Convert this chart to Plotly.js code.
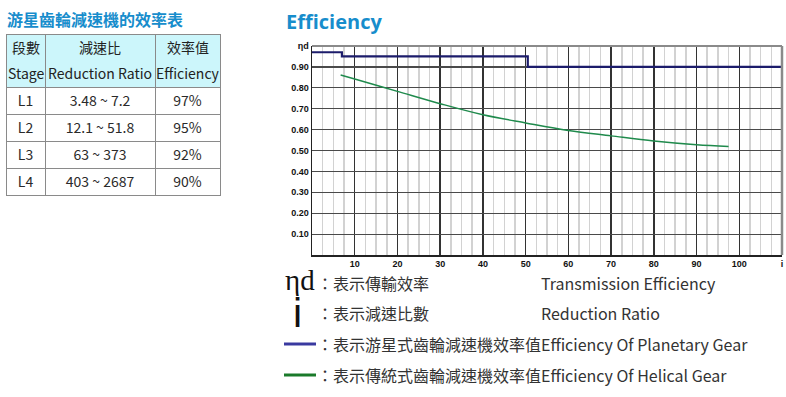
<!DOCTYPE html>
<html>
<head>
<meta charset="utf-8">
<script src="https://cdn.plot.ly/plotly-3.0.1.min.js"></script>
<style>
html,body{margin:0;padding:0;background:#fff;}
#chart{width:786px;height:397px;}
</style>
</head>
<body>
<div id="chart"></div>
<script>
// ---- Table data ----
const headerZh = ['段數', '減速比', '效率值'];
const headerEn = ['Stage', 'Reduction Ratio', 'Efficiency'];
const stages = ['L1', 'L2', 'L3', 'L4'];
const ratios = ['3.48 ~ 7.2', '12.1 ~ 51.8', '63 ~ 373', '403 ~ 2687'];
const effs = ['97%', '95%', '92%', '90%'];

// ---- Chart data ----
const planetaryX = [0, 7, 50.5, 110];
const planetaryY = [0.97, 0.95, 0.90, 0.90];
const helicalX = [6.7, 10, 20, 30, 40, 50, 60, 70, 80, 90, 97.5];
const helicalY = [0.861, 0.842, 0.783, 0.724, 0.671, 0.632, 0.596, 0.570, 0.545, 0.527, 0.519];
const xTickVals = [10, 20, 30, 40, 50, 60, 70, 80, 90, 100, 110];
const xTickText = ['10', '20', '30', '40', '50', '60', '70', '80', '90', '100', 'i'];
const yTickVals = [0.1, 0.2, 0.3, 0.4, 0.5, 0.6, 0.7, 0.8, 0.9, 1.0];
const yTickText = ['0.10', '0.20', '0.30', '0.40', '0.50', '0.60', '0.70', '0.80', '0.90', 'ηd'];

const W = 786, H = 397;
const px = v => v / W;
const py = v => 1 - v / H;

const CJK = '"Noto Sans CJK TC", "Noto Sans", sans-serif';
const TABLE_LEFT = 6, TABLE_RIGHT = 221;
const colWidths = [39, 110, 65];

const traces = [
  {
    type: 'table',
    domain: {x: [px(TABLE_LEFT), px(TABLE_RIGHT)], y: [py(230), py(34)]},
    columnwidth: colWidths,
    header: {
      values: headerZh.map(() => ''),
      align: 'center',
      height: 53,
      fill: {color: '#ccf6fb'},
      line: {color: '#8a8a8a', width: 1},
      font: {family: CJK, size: 14, color: '#222'}
    },
    cells: {
      values: [stages, ratios, effs],
      align: 'center',
      height: 27,
      fill: {color: '#ffffff'},
      line: {color: '#8a8a8a', width: 1},
      font: {family: CJK, size: 14, color: '#2a2a2a'}
    }
  },
  {
    type: 'scatter', mode: 'lines',
    x: planetaryX, y: planetaryY,
    line: {shape: 'hv', color: '#1c1c6b', width: 2.2},
    hoverinfo: 'skip', showlegend: false
  },
  {
    type: 'scatter', mode: 'lines',
    x: helicalX, y: helicalY,
    line: {shape: 'spline', color: '#1f8a4c', width: 1.5},
    hoverinfo: 'skip', showlegend: false
  }
];

const legendFont = {family: CJK, size: 16, color: '#333'};
function ann(text, x, y, font, extra) {
  return Object.assign({text: text, x: px(x), y: py(y), xref: 'paper', yref: 'paper',
    xanchor: 'left', yanchor: 'middle', showarrow: false, font: font}, extra || {});
}

// header labels centred over each header column
const headerAnns = [];
let acc = TABLE_LEFT;
const totalW = colWidths.reduce((a, b) => a + b, 0);
colWidths.forEach((w, i) => {
  const realW = w / totalW * (TABLE_RIGHT - TABLE_LEFT);
  const cx = acc + realW / 2;
  acc += realW;
  const f = {family: CJK, size: 14, color: '#222'};
  headerAnns.push(ann(headerZh[i], cx, 47, f, {xanchor: 'center'}));
  headerAnns.push(ann(headerEn[i], cx, 73, f, {xanchor: 'center'}));
});

const layout = {
  width: W, height: H,
  margin: {l: 0, r: 0, t: 0, b: 0},
  paper_bgcolor: '#fff', plot_bgcolor: '#fff',
  showlegend: false,
  title: {
    text: '<b>Efficiency</b>',
    x: px(286), xanchor: 'left', xref: 'paper',
    y: py(22), yanchor: 'middle', yref: 'paper',
    font: {family: '"Open Sans", sans-serif', size: 20, color: '#178dcc'}
  },
  xaxis: {
    domain: [px(312), px(782)],
    range: [0, 110],
    tickvals: xTickVals, ticktext: xTickText,
    ticks: '', showgrid: true, gridcolor: '#333', gridwidth: 1.5,
    minor: {dtick: 2.5, tick0: 0, showgrid: true, gridcolor: '#d2d2d2', gridwidth: 1.5, ticks: ''},
    zeroline: false,
    showline: true, linecolor: '#222', linewidth: 1.5,
    tickfont: {family: '"Liberation Sans", Arial, sans-serif', size: 9, color: '#111', weight: 'bold'},
    fixedrange: true
  },
  yaxis: {
    domain: [py(255), py(46)],
    range: [0, 1.0],
    tickvals: yTickVals, ticktext: yTickText,
    ticks: '', showgrid: true, gridcolor: '#4a4a4a', gridwidth: 1.2,
    zeroline: false,
    showline: true, linecolor: '#222', linewidth: 1.5,
    tickfont: {family: '"Liberation Sans", Arial, sans-serif', size: 9, color: '#111', weight: 'bold'},
    fixedrange: true
  },
  shapes: [
    {type: 'line', xref: 'x domain', yref: 'y domain', x0: 0, x1: 1, y0: 1, y1: 1, line: {color: '#8a8a8a', width: 2}},
    {type: 'line', xref: 'x domain', yref: 'y domain', x0: 1, x1: 1, y0: 0, y1: 1, line: {color: '#8a8a8a', width: 2.5}},
    {type: 'line', xref: 'paper', yref: 'paper', x0: px(284), x1: px(316), y0: py(344), y1: py(344), line: {color: '#3a3aa0', width: 3}},
    {type: 'line', xref: 'paper', yref: 'paper', x0: px(284), x1: px(316), y0: py(375), y1: py(375), line: {color: '#1a7a2a', width: 3}}
  ],
  annotations: headerAnns.concat([
    ann('<b>游星齒輪減速機的效率表</b>', 5, 19, {family: CJK, size: 16, color: '#178dcc'}),
    ann('ηd', 283, 280, {family: '"Liberation Serif", "DejaVu Serif", serif', size: 29, color: '#111'}),
    ann('i', 291, 313, {family: '"Liberation Sans", Arial, sans-serif', size: 41, color: '#111'}),
    ann('：表示傳輸效率', 315, 283, legendFont),
    ann('Transmission Efficiency', 539, 283, legendFont),
    ann('：表示減速比數', 315, 313, legendFont),
    ann('Reduction Ratio', 539, 313, legendFont),
    ann('：表示游星式齒輪減速機效率值Efficiency Of Planetary Gear', 315, 344, legendFont),
    ann('：表示傳統式齒輪減速機效率值Efficiency Of Helical Gear', 315, 375, legendFont)
  ])
};

Plotly.newPlot('chart', traces, layout, {displayModeBar: false, staticPlot: true});
</script>
</body>
</html>
